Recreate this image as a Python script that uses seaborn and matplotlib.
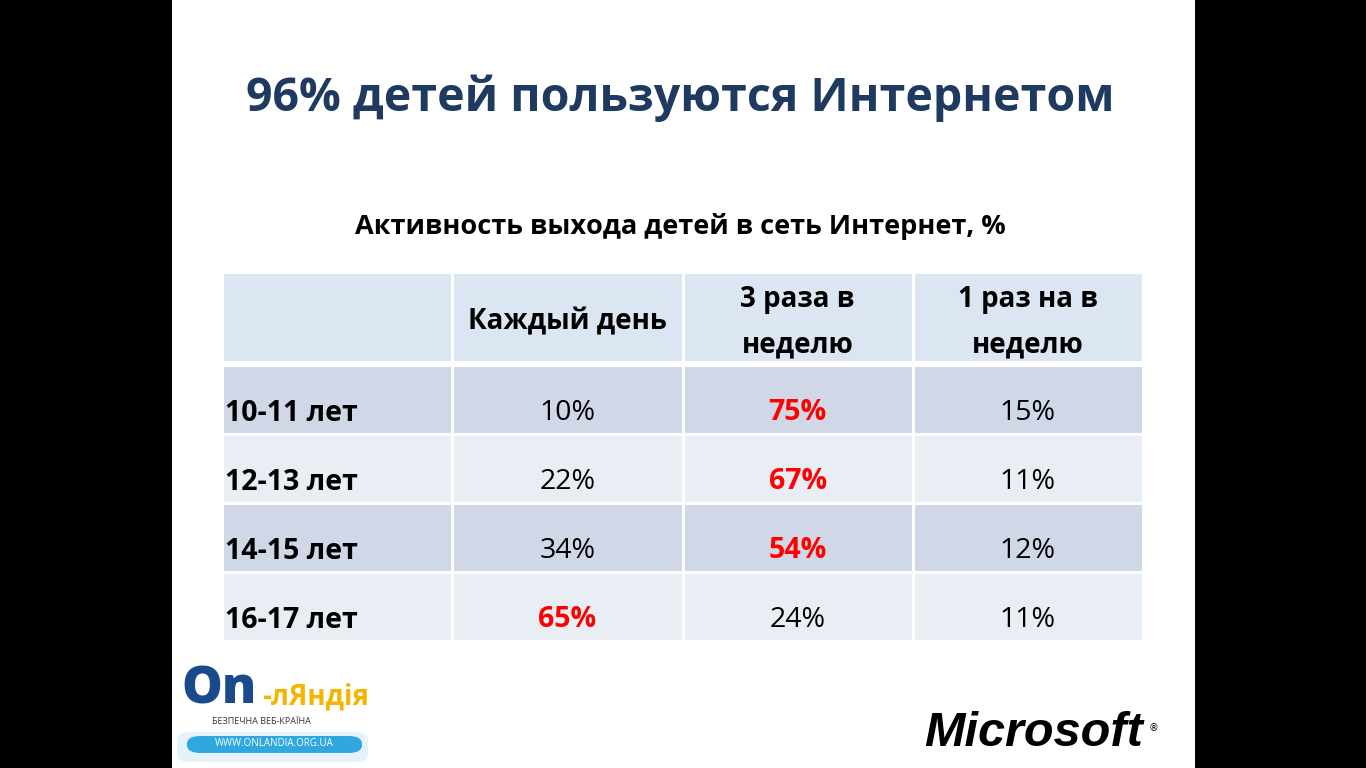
import numpy as np
import pandas as pd
import matplotlib
matplotlib.use("Agg")
import matplotlib.pyplot as plt
import seaborn as sns
from matplotlib.colors import ListedColormap
from matplotlib.patches import Rectangle, FancyBboxPatch

# ---------------- data ----------------
title = "96% детей пользуются Интернетом"
subtitle = "Активность выхода детей в сеть Интернет, %"
ages = ["10-11 лет", "12-13 лет", "14-15 лет", "16-17 лет"]
columns = ["Каждый день", "3 раза в\nнеделю", "1 раз на в\nнеделю"]
every_day = [10, 22, 34, 65]
three_per_week = [75, 67, 54, 24]
once_per_week = [15, 11, 12, 11]

df = pd.DataFrame({columns[0]: every_day,
                   columns[1]: three_per_week,
                   columns[2]: once_per_week}, index=ages)

# ---------------- style ----------------
sns.set_theme(style="white")
plt.rcParams["font.family"] = ["Open Sans", "DejaVu Sans"]

W, H = 1366, 768
fig = plt.figure(figsize=(W / 100, H / 100), dpi=100, facecolor="black")


def fr(x0, y0, x1, y1):
    return [x0 / W, 1 - y1 / H, (x1 - x0) / W, (y1 - y0) / H]


# white slide (behind everything)
fig.patches.append(Rectangle((172 / W, 0), (1195 - 172) / W, 1,
                             transform=fig.transFigure, facecolor="white",
                             edgecolor="none", zorder=-5))

fig.text(680 / W, 1 - 98 / H, title, ha="center", va="center",
         fontsize=33.5, fontweight="bold", color="#1F3A60")
fig.text(680 / W, 1 - 227 / H, subtitle, ha="center", va="center",
         fontsize=19.5, fontweight="bold", color="black")

# ---------------- header row ----------------
axh = fig.add_axes(fr(222, 272, 1143, 362))
hdr_shade = np.zeros((1, 4))
hdr_annot = np.array([[""] + columns])
sns.heatmap(hdr_shade, ax=axh, cmap=ListedColormap(["#DCE6F2"]), cbar=False,
            annot=hdr_annot, fmt="", linewidths=0.8, linecolor="white",
            annot_kws={"fontsize": 20, "fontweight": "bold", "color": "black",
                       "linespacing": 1.75},
            xticklabels=False, yticklabels=False)
for t in axh.texts:
    x, y = t.get_position()
    t.set_position((x, 0.555))
    t.set_color("black")

# ---------------- body ----------------
axb = fig.add_axes(fr(222, 365, 1143, 641))
nrow = len(ages)
shade = np.array([[i % 2] * 4 for i in range(nrow)])
vals = df.values
annot = np.column_stack([np.array(ages, dtype=object),
                         np.vectorize(lambda v: f"{v}%")(vals).astype(object)])
sns.heatmap(shade, ax=axb, cmap=ListedColormap(["#D0D8E8", "#E9EDF4"]),
            vmin=0, vmax=1, cbar=False, annot=annot, fmt="",
            linewidths=0.8, linecolor="white",
            annot_kws={"fontsize": 20.5},
            xticklabels=False, yticklabels=False)
row_max = vals.argmax(axis=1)
for t in axb.texts:
    x, y = t.get_position()
    i, j = int(y), int(x)
    if j == 0:
        t.set_position((0.015, i + 0.71))
        t.set_ha("left")
        t.set_fontweight("bold")
        t.set_color("black")
    else:
        t.set_position((x, i + 0.69))
        if row_max[i] == j - 1:
            t.set_color("#FF0000")
            t.set_fontweight("bold")
        else:
            t.set_color("black")

# ---------------- logos ----------------
# On-ляндія
fig.patches.append(FancyBboxPatch((177 / W, 1 - 762 / H), (368 - 177) / W, 30 / H,
                                  boxstyle="round,pad=0,rounding_size=0.01",
                                  transform=fig.transFigure,
                                  facecolor="#E6F2FA", edgecolor="none", zorder=1))
fig.patches.append(FancyBboxPatch((187 / W, 1 - 753 / H), (362 - 187) / W, 17 / H,
                                  boxstyle="round,pad=0,rounding_size=0.01",
                                  transform=fig.transFigure,
                                  facecolor="#2FA8E0", edgecolor="none", zorder=2))
fig.text(274 / W, 1 - 744 / H, "WWW.ONLANDIA.ORG.UA", ha="center", va="center",
         fontsize=7, color="white", zorder=3)
fig.text(181 / W, 1 - 715 / H, "On", ha="left", va="bottom",
         fontsize=37, fontweight="black", color="#1B4A8C", zorder=3)
fig.text(262 / W, 1 - 697 / H, "-лЯндія", ha="left", va="center",
         fontsize=20, fontweight="bold", color="#F5B400", zorder=3)
fig.text(261 / W, 1 - 722 / H, "БЕЗПЕЧНА ВЕБ-КРАЇНА", ha="center", va="center",
         fontsize=6.5, color="#333333", zorder=3)

# Microsoft
fig.text(1034 / W, 1 - 733 / H, "Microsoft", ha="center", va="center",
         fontsize=35, fontweight="bold", fontstyle="italic",
         family=["Liberation Sans", "DejaVu Sans"], color="black")
fig.text(1154 / W, 1 - 728 / H, "®", ha="center", va="center",
         fontsize=7, color="black", family=["DejaVu Sans"])

fig.savefig("out.png", dpi=100, facecolor="black")
